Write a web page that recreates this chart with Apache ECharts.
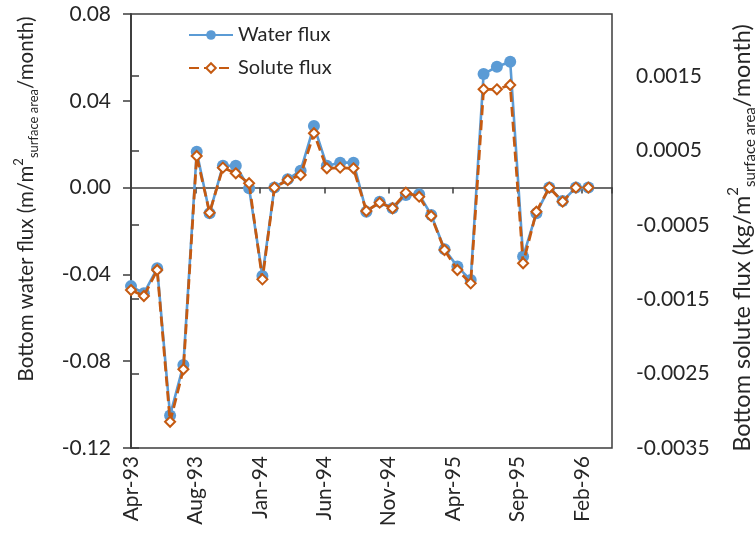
<!DOCTYPE html>
<html>
<head>
<meta charset="utf-8">
<script src="https://cdn.jsdelivr.net/npm/echarts@6/dist/echarts.min.js"></script>
<style>
html,body{margin:0;padding:0;background:#fff;}
#chart{width:756px;height:537px;}
</style>
</head>
<body>
<div id="chart"></div>
<script>
// Monthly sample dates
var months = ['1993-04','1993-05','1993-06','1993-07','1993-08','1993-09','1993-10','1993-11','1993-12',
  '1994-01','1994-02','1994-03','1994-04','1994-05','1994-06','1994-07','1994-08','1994-09','1994-10','1994-11','1994-12',
  '1995-01','1995-02','1995-03','1995-04','1995-05','1995-06','1995-07','1995-08','1995-09','1995-10','1995-11','1995-12',
  '1996-01','1996-02','1996-03'];
// Bottom water flux (m/m2/month)
var waterFlux = [-0.0454,-0.0487,-0.0372,-0.1050,-0.0818,0.0165,-0.0118,0.0101,0.0101,-0.0003,
  -0.0407,0.0001,0.0038,0.0078,0.0284,0.0101,0.0115,0.0115,-0.0111,-0.0065,
  -0.0095,-0.0034,-0.0031,-0.0126,-0.0284,-0.0364,-0.0426,0.0523,0.0557,0.0580,
  -0.0318,-0.0118,0.0000,-0.0062,0.0000,0.0000];
// Bottom solute flux (kg/m2/month)
var soluteFlux = [-0.001377,-0.001457,-0.001108,-0.003147,-0.002442,0.000425,-0.000337,0.000268,0.000192,0.000058,
  -0.001233,0.000000,0.000102,0.000169,0.000730,0.000259,0.000268,0.000259,-0.000315,-0.000203,
  -0.000278,-0.000068,-0.000122,-0.000382,-0.000839,-0.001108,-0.001287,0.001321,0.001321,0.001379,
  -0.001017,-0.000324,0.000000,-0.000189,0.000000,0.000000];
// Axis settings
var leftTicks = [-0.12,-0.08,-0.04,0.00,0.04,0.08];
var rightTicks = [-0.0035,-0.0025,-0.0015,-0.0005,0.0005,0.0015];
var xTickDays = 150;
var xMaxDays = 1120;
var monthNames = ['Jan','Feb','Mar','Apr','May','Jun','Jul','Aug','Sep','Oct','Nov','Dec'];

var origin = Date.UTC(1993,3,1);
function dayOffset(s){ var p=s.split('-'); return (Date.UTC(+p[0], +p[1]-1, 1) - origin)/86400000; }
function fmtDay(v){ var d=new Date(origin + v*86400000); return monthNames[d.getUTCMonth()] + '-' + String(d.getUTCFullYear()).slice(2); }

var waterData = months.map(function(m,i){ return [dayOffset(m), waterFlux[i]]; });
var soluteData = months.map(function(m,i){ return [dayOffset(m), soluteFlux[i]]; });

var FONT = 'Lato';
var TXT = '#262626';
var AX = '#3d3d3d';
var lMin = leftTicks[0], lMax = leftTicks[leftTicks.length-1], lInt = leftTicks[1]-leftTicks[0];
var rMin = rightTicks[0], rInt = rightTicks[1]-rightTicks[0];
var rMax = -rMin * lMax / (-lMin);

function fmtFixed(v, n){ if (Math.abs(v) < Math.pow(10, -n-1)) v = 0; return v.toFixed(n); }
function richName(main1, main2){
  return '{a|' + main1 + '}{sup|2}{sub|surface area}{a|' + main2 + '}';
}
function makeRich(fs){
  var small = Math.round(fs * 0.64);
  return {
    a: {fontFamily: FONT, fontSize: fs, color: TXT, lineHeight: Math.round(fs * 1.36)},
    sup: {fontFamily: FONT, fontSize: small, color: TXT, lineHeight: small, verticalAlign: 'top'},
    sub: {fontFamily: FONT, fontSize: small, color: TXT, lineHeight: Math.round(small * 0.8), verticalAlign: 'bottom'}
  };
}

var chart = echarts.init(document.getElementById('chart'), null, {renderer: 'canvas'});
chart.setOption({
  animation: false,
  backgroundColor: '#fff',
  grid: {left: 131, right: 144, top: 14, bottom: 89, containLabel: false, outerBoundsMode: 'none',
    show: true, borderColor: AX, borderWidth: 1.5, backgroundColor: 'transparent'},
  legend: {
    orient: 'vertical', left: 183, top: 20, itemGap: 13, itemWidth: 44, itemHeight: 12,
    textStyle: {fontFamily: FONT, fontSize: 20, color: TXT},
    data: ['Water flux', 'Solute flux']
  },
  xAxis: [{
    type: 'value', min: 0, max: xMaxDays, interval: xTickDays, position: 'bottom',
    axisLine: {show: true, onZero: true, onZeroAxisIndex: 0, lineStyle: {color: AX, width: 1.5}},
    axisTick: {show: true, length: 6, lineStyle: {color: AX, width: 1.5}},
    axisLabel: {show: false}, splitLine: {show: false}
  }, {
    type: 'value', min: 0, max: xMaxDays, interval: xTickDays, position: 'bottom', offset: 0,
    axisLine: {show: false, onZero: false}, axisTick: {show: false}, splitLine: {show: false},
    axisLabel: {
      rotate: 90, margin: 8, fontFamily: FONT, fontSize: 21, color: TXT, showMaxLabel: false,
      formatter: function(v){ return (v % xTickDays === 0) ? fmtDay(v) : ''; }
    }
  }],
  yAxis: [{
    type: 'value', min: lMin, max: lMax, interval: lInt, position: 'left',
    name: richName('Bottom water flux (m/m', '/month)'),
    nameLocation: 'middle', nameRotate: 90, nameGap: 91,
    nameTextStyle: {rich: makeRich(20.5), padding: [0, 0, 0, 64]},
    axisLine: {show: true, lineStyle: {color: AX, width: 1.5}},
    axisTick: {show: true, length: 8, lineStyle: {color: AX, width: 1.5}},
    axisLabel: {margin: 20, fontFamily: FONT, fontSize: 21, color: TXT, formatter: function(v){ return fmtFixed(v, 2); }},
    splitLine: {show: false}
  }, {
    type: 'value', min: rMin, max: rMax, interval: rInt, position: 'right',
    name: richName('Bottom solute flux (kg/m', '/month)'),
    nameLocation: 'middle', nameRotate: 90, nameGap: 114,
    nameTextStyle: {rich: makeRich(23.5), padding: [0, 14, 0, 0]},
    axisLine: {show: true, lineStyle: {color: AX, width: 1.5}},
    axisTick: {show: true, length: 8, lineStyle: {color: AX, width: 1.5}},
    axisLabel: {margin: 24, fontFamily: FONT, fontSize: 21, color: TXT, showMaxLabel: false,
      formatter: function(v){ var k=(v - rMin)/rInt; return Math.abs(k-Math.round(k))<1e-6 ? fmtFixed(v, 4) : ''; }},
    splitLine: {show: false}
  }],
  series: [{
    name: 'Water flux', type: 'line', xAxisIndex: 0, yAxisIndex: 0, data: waterData,
    symbol: 'circle', symbolSize: 12, color: '#5B9BD5',
    lineStyle: {color: '#5B9BD5', width: 2.6}, itemStyle: {color: '#5B9BD5'}, z: 2
  }, {
    name: 'Solute flux', type: 'line', xAxisIndex: 0, yAxisIndex: 1, data: soluteData,
    symbol: 'emptyDiamond', symbolSize: 10, color: '#C55A11',
    lineStyle: {color: '#C55A11', width: 2.8, type: [10, 5]},
    itemStyle: {color: '#C55A11', borderColor: '#C55A11', borderWidth: 1.6}, z: 3
  }]
});
</script>
</body>
</html>
